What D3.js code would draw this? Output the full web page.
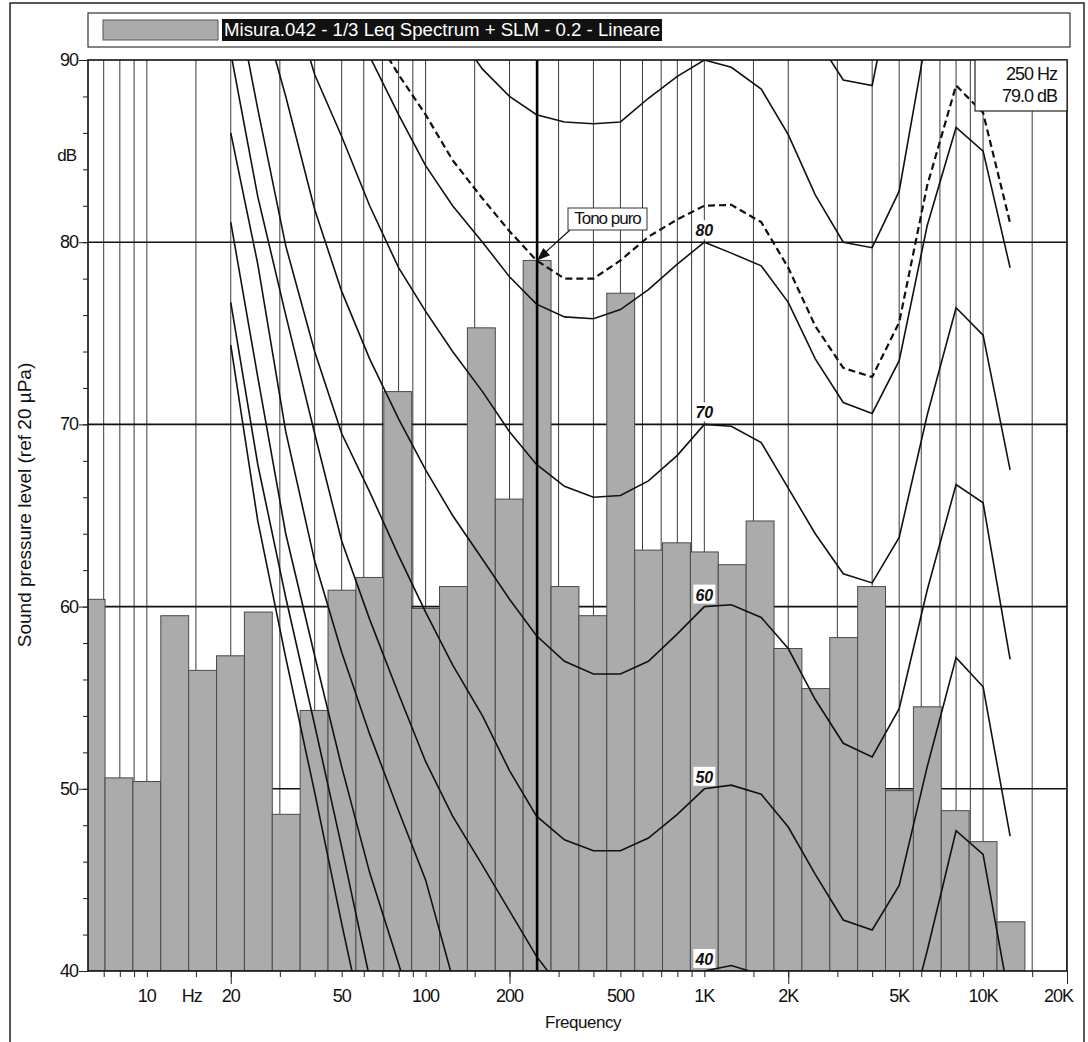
<!DOCTYPE html>
<html><head><meta charset="utf-8">
<script src="https://cdn.jsdelivr.net/npm/d3@7"></script>
<style>
html,body{margin:0;padding:0;background:#fff;}
svg{display:block;}
text{font-family:"Liberation Sans", Arial, Helvetica, sans-serif;}
</style></head><body>
<svg id="c" width="1088" height="1042"></svg>
<script>
// ---------------- DATA ----------------
const bandFreqs = [6.3, 8, 10, 12.5, 16, 20, 25, 31.5, 40, 50, 63, 80, 100, 125, 160, 200, 250, 315, 400, 500, 630, 800, 1000, 1250, 1600, 2000, 2500, 3150, 4000, 5000, 6300, 8000, 10000, 12500];
const leqValues = [60.4, 50.6, 50.4, 59.5, 56.5, 57.3, 59.7, 48.6, 54.3, 60.9, 61.6, 71.8, 59.9, 61.1, 75.3, 65.9, 79.0, 61.1, 59.5, 77.2, 63.1, 63.5, 63.0, 62.3, 64.7, 57.7, 55.5, 58.3, 61.1, 49.9, 54.5, 48.8, 47.1, 42.7];

const contourFreqs = [20, 25, 31.5, 40, 50, 63, 80, 100, 125, 160, 200, 250, 315, 400, 500, 630, 800, 1000, 1250, 1600, 2000, 2500, 3150, 4000, 5000, 6300, 8000, 10000, 12500];
const phon100 = [120, 117, 114, 111, 108, 105.5, 103.5, 101.5, 100, 99, 98, 97.3, 96.8, 96.6, 96.7, 97.3, 98.5, 100, 100, 98.5, 95.5, 91.3, 88.9, 88.6, 96, 102, 107, 106, 100];
const phon90 = [125, 120, 115, 110, 105, 101, 97.5, 94.5, 91.8, 89.5, 88.0, 87.0, 86.6, 86.5, 86.6, 87.9, 89.1, 90, 89.6, 88.4, 85.9, 82.6, 80.0, 79.7, 82.8, 91.5, 97, 95.5, 91];
const toneContour = [117, 110, 104, 99, 95, 91.8, 89.2, 87.0, 84.5, 82.4, 80.6, 79.0, 78.0, 78.0, 79.0, 80.3, 81.25, 82.0, 82.05, 81.1, 78.6, 75.4, 73.1, 72.6, 75.6, 83.1, 88.6, 87.1, 81.05];
const phon80 = [115, 108, 102, 97.5, 93.5, 90.2, 87.0, 84.2, 82.0, 80.0, 78.1, 76.6, 75.9, 75.8, 76.3, 77.4, 78.8, 80, 79.4, 78.7, 76.7, 73.6, 71.2, 70.6, 73.5, 80.9, 86.3, 85.0, 78.6];
const phon70 = [105, 100, 94.5, 89.2, 85.8, 82.0, 78.6, 76.2, 74.0, 71.8, 69.6, 67.8, 66.6, 66.0, 66.1, 66.9, 68.3, 70, 69.9, 69.0, 66.5, 64.0, 61.8, 61.3, 63.8, 70.5, 76.4, 74.9, 67.5];
const phon60 = [99, 93.5, 88, 81.8, 77.3, 73.6, 70.3, 67.5, 65.0, 62.6, 60.4, 58.4, 57.0, 56.3, 56.3, 57.0, 58.5, 60, 60.1, 59.4, 57.7, 54.9, 52.5, 51.75, 54.4, 60.9, 66.7, 65.7, 57.1];
const phon50 = [95, 87.3, 79.8, 74, 69.5, 66.3, 62.8, 59.7, 56.8, 54.0, 51.0, 48.5, 47.2, 46.6, 46.6, 47.3, 48.6, 50, 50.2, 49.7, 47.9, 45.3, 42.8, 42.25, 44.7, 51.2, 57.2, 55.6, 47.4];
const phon40 = [90.4, 82.5, 76, 69.5, 63.6, 59.3, 55.2, 51.5, 48.5, 45.8, 43.3, 40.8, 38.8, 37.8, 37.6, 38.0, 38.9, 40, 40.3, 39.8, 38.2, 35.7, 33.3, 32.8, 35.2, 41.1, 47.7, 46.4, 38.2];
const phon30 = [86.0, 78.8, 69.6, 62.5, 57.5, 53.0, 48.8, 45.0, 39.6, 35.5];
const phon20 = [81.1, 72.6, 64.0, 57.3, 51.2, 45.4, 40.4, 35.5];
const phon10 = [76.7, 67.8, 60.5, 53.5, 46.8, 39.6, 33.0];
const threshold = [74.35, 64.7, 57.2, 49.8, 42.6, 35.5];

const contourLabels = [80, 70, 60, 50, 40];
const gridFreqs = [7, 8, 9, 10, 15, 20, 30, 40, 50, 60, 70, 80, 90, 100, 150, 200, 300, 400, 500, 600, 700, 800, 900, 1000, 1500, 2000, 3000, 4000, 5000, 6000, 7000, 8000, 9000, 10000, 15000, 20000];
const majorTickFreqs = [20, 200, 2000, 20000];
const xLabelFreqs = [10, 14.5, 20, 50, 100, 200, 500, 1000, 2000, 5000, 10000, 20000];
const xLabelTexts = ["10", "Hz", "20", "50", "100", "200", "500", "1K", "2K", "5K", "10K", "20K"];
const yTickValues = [40, 50, 60, 70, 80, 90];
const yGridValues = [50, 60, 70, 80];
const legendText = "Misura.042 - 1/3 Leq Spectrum + SLM - 0.2 - Lineare";
const cursorFreq = 250, cursorLevel = 79.0;
const cursorTexts = ["250 Hz", "79.0 dB"];
const toneText = "Tono puro";

// ---------------- CHART ----------------
const W = 1088, H = 1042;
const P = {l: 88, r: 1067, t: 60, b: 971};
const svg = d3.select("#c");
const x = d3.scaleLog().domain([6.15, 20000]).range([P.l, P.r]);
const y = d3.scaleLinear().domain([40, 90]).range([P.b, P.t]);
const exactCenter = f => Math.pow(10, Math.round(10 * Math.log10(f)) / 10);
const bandEdges = f => { const n = Math.round(10 * Math.log10(f)); return [Math.pow(10, (n - 0.5) / 10), Math.pow(10, (n + 0.5) / 10)]; };

svg.append("rect").attr("width", W).attr("height", H).attr("fill", "#fff");
svg.append("rect").attr("x", 10).attr("y", 3).attr("width", 1074).attr("height", 1070)
  .attr("fill", "none").attr("stroke", "#222").attr("stroke-width", 1.5);

svg.append("defs").append("clipPath").attr("id", "pc").append("rect")
  .attr("x", P.l).attr("y", P.t).attr("width", P.r - P.l).attr("height", P.b - P.t);

const plotG = svg.append("g").attr("clip-path", "url(#pc)");

// grid
plotG.selectAll("line.vg").data(gridFreqs).join("line").attr("class", "vg")
  .attr("x1", d => x(d)).attr("x2", d => x(d)).attr("y1", P.t).attr("y2", P.b)
  .attr("stroke", "#3a3a3a").attr("stroke-width", 1);
plotG.selectAll("line.hg").data(yGridValues).join("line").attr("class", "hg")
  .attr("x1", P.l).attr("x2", P.r).attr("y1", d => y(d)).attr("y2", d => y(d))
  .attr("stroke", "#111").attr("stroke-width", 1.6);

// bars
const bars = bandFreqs.map((f, i) => ({f, v: leqValues[i], e: bandEdges(f)}));
plotG.selectAll("rect.bar").data(bars).join("rect").attr("class", "bar")
  .attr("x", d => x(d.e[0])).attr("width", d => x(d.e[1]) - x(d.e[0]))
  .attr("y", d => y(d.v)).attr("height", d => y(40) - y(d.v))
  .attr("fill", "#ababab").attr("stroke", "#4a4a4a").attr("stroke-width", 1);

// contours
const line = d3.line().x(d => x(d[0])).y(d => y(d[1]));
const solid = [phon100, phon90, phon80, phon70, phon60, phon50, phon40, phon30, phon20, phon10, threshold];
solid.forEach(arr => {
  plotG.append("path").datum(arr.map((v, i) => [contourFreqs[i], v]))
    .attr("d", line).attr("fill", "none").attr("stroke", "#111").attr("stroke-width", 1.6);
});
plotG.append("path").datum(toneContour.map((v, i) => [contourFreqs[i], v]))
  .attr("d", line).attr("fill", "none").attr("stroke", "#111").attr("stroke-width", 2.2)
  .attr("stroke-dasharray", "7,4");

// cursor line
const cx = x(exactCenter(cursorFreq));
svg.append("line").attr("x1", cx).attr("x2", cx).attr("y1", P.t).attr("y2", P.b)
  .attr("stroke", "#000").attr("stroke-width", 2.6);

// plot frame
svg.append("rect").attr("x", P.l).attr("y", P.t).attr("width", P.r - P.l).attr("height", P.b - P.t)
  .attr("fill", "none").attr("stroke", "#111").attr("stroke-width", 1.6);

// contour labels
const lx = x(1000);
contourLabels.forEach(v => {
  svg.append("rect").attr("x", lx - 11).attr("y", y(v) - 22).attr("width", 22).attr("height", 19).attr("fill", "#fff");
  svg.append("text").attr("x", lx).attr("y", y(v) - 6).attr("text-anchor", "middle")
    .attr("font-size", 16).attr("font-weight", "bold").attr("font-style", "italic").attr("fill", "#111").text(v);
});

// x axis ticks
svg.append("g").attr("transform", `translate(0,${P.b})`)
  .call(d3.axisBottom(x).tickValues(gridFreqs).tickSize(6).tickFormat(() => ""))
  .call(g => g.select(".domain").remove())
  .call(g => g.selectAll("line").attr("stroke", "#222"));
svg.append("g").attr("transform", `translate(0,${P.b})`)
  .call(d3.axisBottom(x).tickValues(majorTickFreqs).tickSize(13).tickFormat(() => ""))
  .call(g => g.select(".domain").remove())
  .call(g => g.selectAll("line").attr("stroke", "#222"));
svg.append("g").selectAll("text").data(xLabelFreqs).join("text")
  .attr("x", (d, i) => i === xLabelFreqs.length - 1 ? x(d) + 6 : x(d))
  .attr("y", 1002).attr("text-anchor", (d, i) => i === xLabelFreqs.length - 1 ? "end" : "middle")
  .attr("font-size", 18).attr("letter-spacing", -1).attr("fill", "#111")
  .text((d, i) => xLabelTexts[i]);
svg.append("text").attr("x", 583).attr("y", 1028).attr("text-anchor", "middle")
  .attr("font-size", 17).attr("letter-spacing", -0.5).attr("fill", "#111").text("Frequency");

// y axis ticks
svg.append("g").attr("transform", `translate(${P.l},0)`)
  .call(d3.axisLeft(y).tickValues(d3.range(40, 91, 2)).tickSize(5).tickFormat(() => ""))
  .call(g => g.select(".domain").remove())
  .call(g => g.selectAll("line").attr("stroke", "#222"));
svg.append("g").attr("transform", `translate(${P.l},0)`)
  .call(d3.axisLeft(y).tickValues(yTickValues).tickSize(9).tickFormat(() => ""))
  .call(g => g.select(".domain").remove())
  .call(g => g.selectAll("line").attr("stroke", "#222"));
svg.append("g").selectAll("text").data(yTickValues).join("text")
  .attr("x", 78).attr("y", d => y(d) + 6).attr("text-anchor", "end")
  .attr("font-size", 18).attr("letter-spacing", -1).attr("fill", "#111").text(d => d);
svg.append("text").attr("x", 76).attr("y", 161).attr("text-anchor", "end")
  .attr("font-size", 17).attr("letter-spacing", -1).attr("fill", "#111").text("dB");
svg.append("text").attr("transform", "translate(31,505) rotate(-90)").attr("text-anchor", "middle")
  .attr("font-size", 19).attr("fill", "#111").text("Sound pressure level (ref 20 µPa)");

// legend
svg.append("rect").attr("x", 88).attr("y", 13).attr("width", 982).attr("height", 34)
  .attr("fill", "#fff").attr("stroke", "#333").attr("stroke-width", 1.2);
svg.append("rect").attr("x", 103).attr("y", 20).attr("width", 115).attr("height", 20)
  .attr("fill", "#ababab").attr("stroke", "#555").attr("stroke-width", 1);
svg.append("rect").attr("x", 222).attr("y", 19).attr("width", 440).attr("height", 22).attr("fill", "#111");
svg.append("text").attr("x", 224).attr("y", 36).attr("font-size", 18).attr("fill", "#fff")
  .attr("textLength", 436).attr("lengthAdjust", "spacingAndGlyphs").text(legendText);

// cursor readout box
svg.append("rect").attr("x", 975).attr("y", P.t).attr("width", P.r - 975).attr("height", 51)
  .attr("fill", "#fff").attr("stroke", "#222").attr("stroke-width", 1.2);
svg.append("text").attr("x", 1057).attr("y", 80).attr("text-anchor", "end").attr("font-size", 18)
  .attr("letter-spacing", -1).attr("fill", "#111").text(cursorTexts[0]);
svg.append("text").attr("x", 1057).attr("y", 102).attr("text-anchor", "end").attr("font-size", 18)
  .attr("letter-spacing", -1).attr("fill", "#111").text(cursorTexts[1]);

// tone callout
const tipX = cx, tipY = y(cursorLevel);
const bx = 568, by = 208, bw = 79, bh = 22;
svg.append("line").attr("x1", bx + 2).attr("y1", by + bh).attr("x2", tipX + 6).attr("y2", tipY - 6)
  .attr("stroke", "#111").attr("stroke-width", 1.2);
const ang = Math.atan2(tipY - (by + bh), tipX - (bx + 2));
const aL = 13, aW = 5;
const p1 = [tipX - aL * Math.cos(ang) + aW * Math.sin(ang), tipY - aL * Math.sin(ang) - aW * Math.cos(ang)];
const p2 = [tipX - aL * Math.cos(ang) - aW * Math.sin(ang), tipY - aL * Math.sin(ang) + aW * Math.cos(ang)];
svg.append("path").attr("d", `M${tipX},${tipY}L${p1[0]},${p1[1]}L${p2[0]},${p2[1]}Z`).attr("fill", "#111");
svg.append("rect").attr("x", bx).attr("y", by).attr("width", bw).attr("height", bh)
  .attr("fill", "#fff").attr("stroke", "#333").attr("stroke-width", 1);
svg.append("text").attr("x", bx + bw / 2).attr("y", by + 16).attr("text-anchor", "middle")
  .attr("font-size", 17).attr("letter-spacing", -1).attr("fill", "#111").text(toneText);
</script>
</body></html>
